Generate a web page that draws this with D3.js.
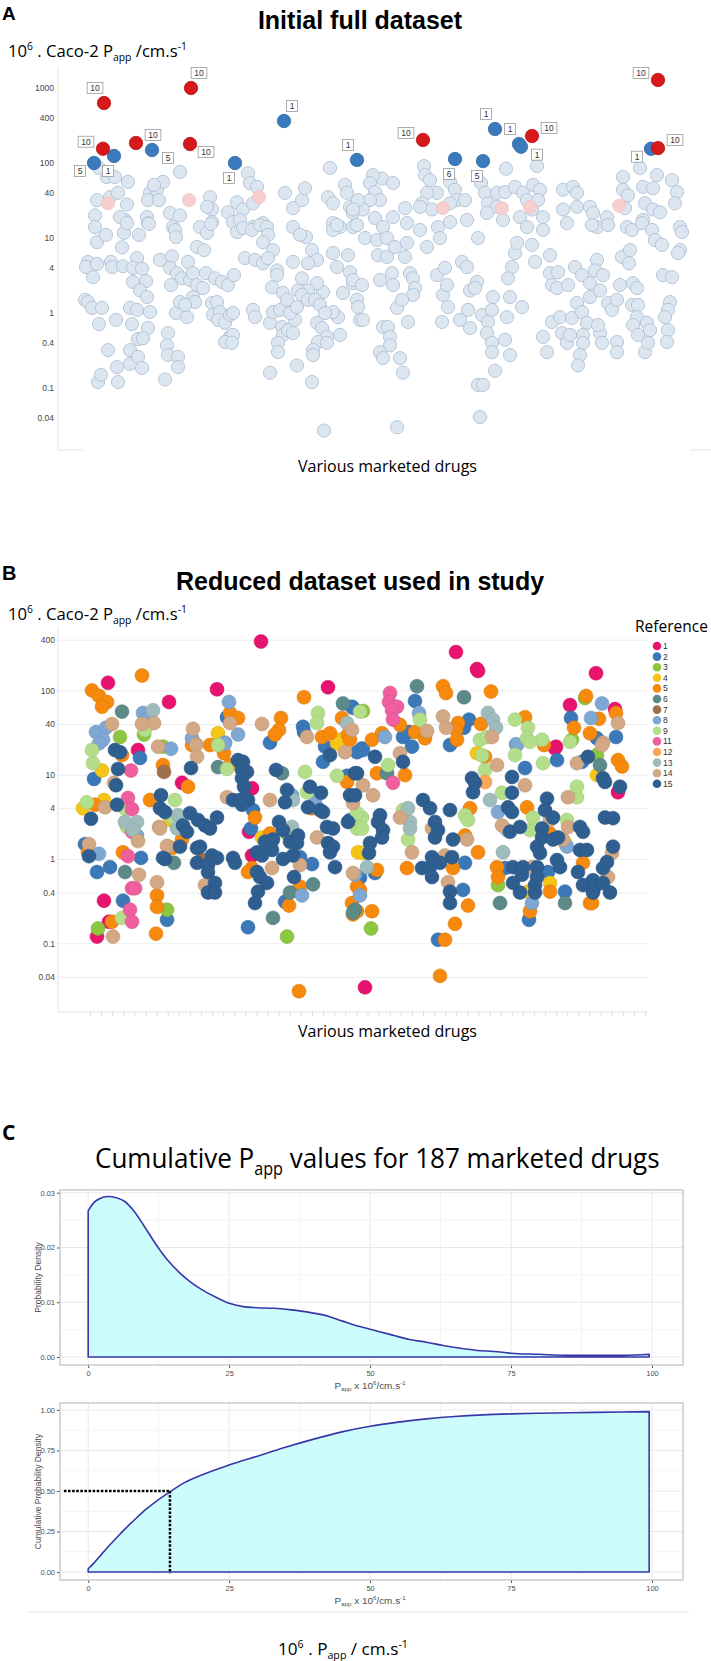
<!DOCTYPE html>
<html><head><meta charset="utf-8">
<script src="https://cdn.jsdelivr.net/npm/d3@7"></script>
<style>body{margin:0;background:#fff}svg{display:block}text{white-space:pre}</style>
</head><body>
<svg id="chart" width="711" height="1661"></svg>
<script>
// ================= DATA =================
// Panel A: drug position index, Caco-2 Papp (10^-6 cm/s)
const aTicks = [0.04, 0.1, 0.4, 1, 4, 10, 40, 100, 400, 1000];
const aOtherDrugs = [
[41,86],[49,65],[57,65],[70,56],[39,32],[52,35],[60,40],[37,20],[69,28],[67,17.4],[62,19],[37,14],[92,40],[99,44],[105,56],[96,51],[90,32],[101,32],[89,19],[90,15.8],[112,21.5],[122,20],[122,76],[115,14],[152,35],[154,24],[149,26],[154,16.3],[142,14],[170,22],[179,30],[185,24],[190,73],[192,54],[199,48],[195,29],[175,16.3],[182,17.4],[205,15.8],[195,14],[227,40],[235,25],[244,32],[247,46],[235,14],[272,86],[270,35],[275,29],[287,51],[289,40],[292,26],[295,21.5],[275,15.8],[282,14],[295,14],
[39,8.8],[48,11],[66,11.7],[69,15.8],[81,11],[91,15.4],[64,7.5],[117,12.8],[118,10.3],[149,11.7],[153,15.4],[139,7.6],[146,6.9],[179,12],[185,13.6],[194,12.8],[202,14.9],[209,14],[210,11],[205,8.8],[215,6.9],[187,5.4],[197,5.1],[205,4.6],[210,5.4],[219,3.7],[219,3.2],[214,2.2],[30,4.8],[28,4.1],[39,4.5],[35,3.0],[53,4.8],[54,4.1],[65,4.2],[79,5.4],[75,4.0],[84,3.9],[75,2.6],[88,2.67],[82,2.0],[89,1.63],[102,5.1],[114,5.7],[112,4.0],[113,2.36],[119,3.4],[130,4.8],[124,2.9],[132,2.75],[135,3.4],[139,2.36],[148,3.4],[145,2.15],[135,1.63],[137,1.4],[157,2.9],[164,2.6],[170,2.36],[176,3.2],[235,4.8],[244,2.9],[254,6.9],[248,10.3],[242,11],[259,5.1],[250,4.6],[265,1.9],[259,2.5],[250,2.0],[240,2.0],[275,12.8],[279,14.9],[275,6.3],[279,4.1],[290,5.9],[292,3.5],[285,1.85],[295,2.5],[27,1.5],[30,1.4],[34,1.17],[44,1.17],[41,0.71],[58,0.81],[50,0.32],[40,0.12],[43,0.15],[60,0.12],[59,0.19],[72,1.17],[79,1.1],[74,0.71],[92,1.03],[90,0.63],[80,0.45],[85,0.46],[72,0.32],[72,0.21],[80,0.26],[84,0.185],[110,0.54],[109,0.37],[110,0.275],[120,0.26],[120,0.19],[107,0.13],[118,1.0],[129,0.88],[122,1.4],[127,1.28],[154,1.36],[159,1.4],[155,0.94],[162,1.03],[160,0.81],[167,0.74],[172,0.94],[175,1.0],[172,0.48],[175,0.51],[167,0.41],[174,0.4],[195,1.1],[197,0.88],[212,0.74],[215,1.03],[222,1.1],[225,1.85],[229,1.5],[224,0.65],[225,0.51],[230,0.59],[220,0.4],[220,0.30],[237,0.81],[235,0.54],[239,0.2],[212,0.16],[232,1.0],[239,1.2],[244,1.74],[250,1.5],[257,1.5],[262,1.28],[259,0.74],[264,0.63],[269,0.48],[260,0.41],[255,0.32],[255,0.275],[269,0.4],[280,0.88],[282,0.51],[275,1.03],[267,1.0],[254,0.12],[266,0.027],[299,1.5],[300,1.2],[302,0.81],
[366,91],[367,69],[372,59],[379,40],[369,40],[364,29],[374,24],[392,56],[397,44],[399,32],[407,32],[392,29],[409,17.4],[392,16.3],[362,26],[347,25],[335,19],[324,62],[315,69],[335,54],[312,54],[317,41],[322,32],[312,32],[305,24],[317,18.5],[300,32],[295,24],[325,14],[423,54],[427,40],[430,29],[439,40],[447,41],[448,84],[439,26],[429,21.5],[445,17.4],[457,48],[465,40],[469,32],[475,51],[482,44],[480,32],[474,24],[479,91],[462,19],[485,19],[469,14],[505,44],[515,48],[519,40],[505,24],[519,26],[509,15.8],[532,26],[535,21.5],[549,19],[539,14],[565,65],[565,44],[570,37],[567,25],[582,86],[585,48],[595,46],[599,69],[587,29],[595,24],[602,22],[585,17.4],[614,59],[619,41],[617,29],[622,14],
[299,14.9],[307,10],[319,9.4],[329,10],[320,5.9],[329,5.6],[337,7.6],[347,5.6],[349,8.6],[349,15.8],[362,12.8],[369,7.6],[380,14],[382,10],[420,10],[295,2.75],[304,2.36],[322,2.75],[334,3.4],[335,2.36],[352,3.4],[355,2.9],[357,2.15],[355,1.74],[305,0.81],[325,0.65],[330,0.65],[332,0.48],[332,0.37],[322,0.30],[325,0.25],[342,0.25],[345,0.16],[339,1.17],[344,1.5],[350,0.76],[379,3.2],[387,4.0],[385,1.74],[389,2.36],[390,1.2],[384,0.76],[404,4.8],[409,4.1],[412,2.0],[419,2.6],[417,2.15],[410,1.1],[402,0.81],[412,0.63],[424,0.94],[430,0.76],[434,1.1],[435,1.63],[429,0.54],[434,0.4],[434,0.30],[437,0.17],[420,0.11],[425,0.11],[422,0.041],[339,0.03],[447,0.44],[449,0.88],[452,0.275],[452,1.63],[454,4.1],[450,2.9],[457,6.3],[459,8.6],[474,8.1],[477,4.8],[464,1.2],[485,12.8],[492,5.9],[492,3.4],[494,2.36],[499,2.15],[500,3.5],[489,0.30],[485,0.48],[494,0.76],[502,0.88],[504,0.54],[509,0.4],[512,0.51],[514,0.86],[519,1.36],[524,1.03],[529,0.74],[525,0.51],[525,0.4],[522,0.275],[520,0.2],[510,2.36],[517,4.1],[524,3.2],[532,1.63],[532,2.5],[539,5.1],[537,3.7],[542,2.0],[545,3.2],[550,1.36],[554,1.1],[559,1.5],[562,2.36],[564,5.6],[572,6.9],[571,4.6],[575,2.5],[579,2.15],[574,1.28],[580,1.28],[579,0.88],[575,0.69],[580,0.51],[589,0.74],[592,0.59],[587,0.30],[590,0.4],[559,0.41],[559,0.30],[542,0.54],[544,0.4],[540,0.69],[534,14.9],[550,14.9],[569,14],[574,12.8],[584,15.8],[594,12.8],[597,9.4],[604,8.1],[605,3.2],[614,3.0],[612,1.4],[610,1.1],[607,0.88],[610,0.59],[609,0.41],[624,12],[622,6.9],[620,6.3]
];
const aFaintRef10 = [[50,29],[131,32],[201,35],[385,25],[444,25],[472,26],[561,27]];
const aRef10Points = [[46,631,"10"],[133,1000,"10"],[45,155,"10"],[78,185,"10"],[132,179,"10"],[600,1280,"10"],[365,203,"10"],[474,229,"10"],[600,158,"10"]];
const aRef10Sides = ["ul","ur","l","r","dr","l","l","r","r"];
const aOtherRefPoints = [[36,100,"5"],[56,124,"1"],[94,149,"5"],[226,363,"1"],[177,100,"1"],[299,110,"1"],[437,284,"1"],[461,179,"1"],[463,165,"1"],[397,113,"6"],[425,106,"5"],[593,155,"1"]];
const aOtherRefSides = ["dl","d","dr","ur","d","ul","ul","ul","dr","d","d","dl"];

// Panel B: per reference, [drug position index, Papp]
const bTicks = [0.04, 0.1, 0.4, 1, 4, 10, 40, 100, 400];
const refNames = ["1","2","3","4","5","6","7","8","9","11","12","13","14","15"];
const bRef1 = [[50,123],[111,73],[159,103],[203,380],[270,109],[398,285],[419,179],[420,170],[538,160],[512,67],[557,60],[498,21.5],[80,19.6],[124,8],[194,6.9],[191,2.1],[194,1.1],[46,0.32],[51,0.18],[39,0.12],[307,0.03],[497,20.5],[560,6.2]];
const bRef2 = [[169,48],[212,24],[245,37],[246,32],[294,64],[357,75],[295,62],[406,36],[411,45],[513,47],[539,27],[558,28],[351,32],[345,28],[304,20.5],[392,22.5],[354,21.5],[82,15.8],[36,8.9],[195,3.8],[193,2.3],[242,1.05],[190,0.155],[227,0.31],[254,0.87],[267,21.5],[265,14.2],[289,9.7],[299,18.5],[305,19.6],[292,2.9],[317,0.68],[302,0.6],[407,0.9],[405,0.43],[380,0.11],[467,12],[447,0.78],[471,0.19],[507,0.41],[490,0.7],[499,14.9],[524,14.2],[27,1.5],[83,1.03],[39,0.7],[52,0.8],[65,0.32],[109,0.19]];
const bRef3 = [[62,28],[86,30],[105,21.5],[109,0.25],[40,0.15],[229,2.0],[229,0.12],[305,57],[514,26],[313,0.15],[440,0.49],[539,17.1],[527,81]];
const bRef4 = [[160,31],[282,26],[44,11.2],[25,4],[46,5.0],[112,2.9],[204,1.8],[300,1.2],[279,23.5],[305,1.18],[507,1.55],[470,0.41],[492,0.52],[539,9.9],[419,18]];
const bRef5 = [[34,100],[41,86],[49,73],[44,64],[84,150],[172,54],[180,47],[152,22.5],[223,47],[221,34],[217,30],[246,83],[284,47],[264,28],[272,31],[290,30],[385,112],[388,93],[433,97],[528,86],[342,39],[400,41],[398,34],[423,40],[467,48],[486,22.5],[516,36],[541,46],[532,31],[558,54],[357,32],[367,27],[324,31],[314,26],[399,26],[64,17.1],[105,13],[134,22.5],[166,18],[172,13],[130,7.2],[92,5.0],[114,1.35],[124,1.7],[197,3.1],[212,2.0],[194,0.78],[190,0.7],[231,0.28],[242,0.47],[254,4],[289,8.2],[292,26],[299,0.47],[294,0.3],[295,0.22],[37,4.4],[30,1.2],[65,1.2],[54,0.18],[99,0.37],[99,0.27],[98,0.13],[241,0.027],[319,10.4],[347,9.9],[319,0.74],[302,0.43],[299,0.24],[314,0.24],[349,0.78],[395,0.78],[410,0.28],[397,0.17],[387,0.11],[382,0.041],[407,1.9],[412,4],[420,1.2],[469,4.1],[492,2.0],[525,0.9],[532,0.3],[439,0.8],[440,0.61],[492,0.41],[472,0.24],[534,0.3],[560,14.9],[564,12.5],[427,16.3]];
const bRef6 = [[64,56],[285,70],[359,112],[406,83],[160,12.3],[224,10.4],[116,0.9],[67,0.7],[215,0.2],[232,0.4],[255,0.5],[297,0.25],[295,0.23],[442,0.3],[507,0.3],[542,13],[329,10.4]];
const bRef7 = [[106,10.8],[144,0.97]];
const bRef8 = [[38,32],[48,36],[45,26],[85,54],[89,45],[171,73],[180,30],[167,24],[134,27],[544,70],[361,54],[327,28],[458,23],[533,47],[41,23.5],[113,20.3],[167,23.5],[257,4.7],[234,5.7],[244,0.37],[297,0.65],[41,1.15],[79,1.9],[302,0.37],[440,3.6],[509,1.4],[474,0.3],[459,22.5]];
const bRef9 = [[87,34],[260,54],[259,41],[302,56],[362,45],[457,45],[470,36],[469,27],[484,26],[422,26],[429,28],[34,19.6],[35,13.7],[160,22.5],[169,11.7],[117,5.0],[115,3.1],[249,6.2],[247,10.8],[279,9.7],[299,2.3],[29,4.7],[67,4],[69,2.4],[64,0.2],[330,13],[304,3.1],[304,2.3],[345,3.8],[350,1.7],[407,3.3],[410,2.9],[427,11.4],[444,6.1],[472,2.2],[475,3.1],[509,2.9],[519,5.4],[519,7.2],[485,13.7],[512,24.5],[424,17],[457,17.1],[472,24.5],[299,3.5]];
const bRef11 = [[332,93],[331,73],[339,64],[334,58],[335,45],[73,11.2],[70,5.3],[74,3.9],[74,2.1],[70,1.08],[74,0.45],[77,0.45],[72,0.25],[74,0.18],[335,8]];
const bRef12 = [[427,8.2]];
const bRef13 = [[95,58],[289,41],[430,54],[435,45],[438,36],[120,3.3],[119,2.3],[234,2.4],[235,5.0],[67,2.75],[79,2.75],[75,2.2],[309,0.8],[350,4],[352,2.75],[352,2.3],[432,5],[449,2.2],[445,1.2]];
const bRef14 = [[54,40],[84,40],[96,41],[172,41],[135,35],[138,23],[204,40],[249,28],[294,34],[385,49],[388,36],[434,28],[545,24],[560,41],[369,33],[56,8],[100,21.5],[138,22.5],[139,16.3],[101,2.4],[110,1.4],[147,0.49],[169,5.4],[214,0.78],[242,0.85],[212,5.0],[259,1.8],[295,0.68],[295,4.6],[287,18.5],[47,4.1],[31,1.5],[80,1.63],[81,0.65],[99,0.53],[55,0.12],[102,2.3],[109,1.43],[315,5.7],[305,7.5],[342,18],[342,3.1],[354,1.2],[387,1.1],[390,0.53],[374,2.3],[409,1.7],[439,13],[467,7.5],[444,2.5],[492,2.9],[505,1.7],[510,2.4],[510,5.4],[474,0.8],[550,0.61],[554,1.18],[519,13.7],[544,22.5]];
const bRef15 = [[57,19.6],[62,18.5],[60,11.7],[58,7.5],[133,12],[180,14.9],[185,14.2],[184,11.4],[189,10.8],[184,9.1],[186,7.2],[190,5.0],[187,5.3],[184,4.4],[103,5.7],[102,4.0],[107,3.6],[125,2.5],[129,2.1],[132,3.5],[140,2.9],[147,2.5],[152,2.3],[159,3.1],[122,1.4],[107,1.0],[139,1.35],[142,1.4],[139,0.9],[154,1.1],[150,0.85],[159,1.03],[150,0.7],[157,0.52],[150,0.4],[157,0.4],[175,1.03],[177,0.9],[175,5.0],[182,5.0],[207,1.6],[199,1.2],[204,1.1],[214,1.28],[215,1.7],[221,2.75],[225,2.2],[232,1.6],[240,1.9],[239,1.55],[225,1.0],[235,1.1],[199,0.7],[202,0.61],[209,0.52],[200,0.41],[197,0.3],[236,0.61],[250,4.1],[262,3.8],[265,3.6],[263,6.1],[252,7.2],[227,4.7],[229,6.6],[218,11.4],[269,2.4],[275,2.3],[270,1.55],[275,1.4],[272,1.2],[277,0.8],[290,2.75],[272,17.1],[292,5.7],[297,10.4],[33,3.0],[59,4.4],[31,1.08],[105,1.03],[317,16.3],[299,10.4],[345,14.2],[297,5.7],[322,3.3],[320,2.75],[325,2.2],[324,1.8],[312,1.55],[311,1.18],[365,5.0],[372,4],[377,2.75],[380,2.2],[377,1.8],[392,3.8],[395,1.7],[364,0.78],[372,0.8],[374,0.61],[374,1.05],[382,0.9],[394,1.05],[392,0.41],[392,0.3],[414,9.1],[417,8],[415,6.2],[454,9.4],[454,6.1],[450,4.1],[454,3.6],[452,2.1],[462,2.4],[489,5.2],[487,3.8],[495,3.1],[484,2.3],[484,1.8],[479,1.4],[482,1.18],[495,1.7],[500,1.8],[522,2.4],[525,2.1],[522,1.28],[529,1.28],[520,0.7],[525,0.49],[535,0.56],[537,0.47],[535,0.4],[545,0.52],[552,0.4],[545,0.78],[549,0.92],[555,1.4],[547,3.1],[555,3.05],[455,0.8],[455,0.52],[464,0.65],[465,0.8],[479,0.8],[479,0.61],[477,0.49],[462,0.4],[477,0.4],[499,0.97],[502,0.8],[545,9.1],[547,8.2],[562,7.2],[530,16.3]];
const bSeries = [bRef1,bRef2,bRef3,bRef4,bRef5,bRef6,bRef7,bRef8,bRef9,bRef11,bRef12,bRef13,bRef14,bRef15];

// Panel C: kernel density and cumulative distribution of Papp
const densityPapp   = [0,1,2,3.5,5,6.5,8,10,12,14,16,18,20,22.5,25,27.5,30,33,36,39,42,45,48,51,54,57,60,63,66,69,72,75,80,85,90,95,99.5];
const densityValues = [0.0267,0.0282,0.0289,0.0293,0.0291,0.0284,0.0268,0.0238,0.0206,0.0178,0.0156,0.0138,0.0124,0.0110,0.0098,0.0092,0.0090,0.0089,0.0086,0.0082,0.0076,0.0066,0.0056,0.0048,0.0040,0.0032,0.0027,0.0021,0.0016,0.0012,0.0010,0.0007,0.0005,0.0003,0.0003,0.0003,0.0005];
const cumulativePapp   = [0,1,2,3.5,5,6.5,8,10,12,14.5,17,20,25,30,35,40,45,50,55,60,65,70,75,80,90,99.5];
const cumulativeValues = [0.02,0.055,0.095,0.155,0.21,0.265,0.315,0.38,0.435,0.495,0.55,0.597,0.66,0.715,0.77,0.82,0.865,0.90,0.925,0.945,0.96,0.97,0.976,0.98,0.985,0.99];
const medianPapp = 14.5;
const densityTicksX = [0,25,50,75,100];
const densityTicksY = [0,0.01,0.02,0.03];
const cumulativeTicksY = [0,0.25,0.5,0.75,1];

// ================= STYLE =================
const refColors = ["#e8136f","#3a78b8","#8dc63f","#f5c518","#f7890c","#5b8a89","#a0704a","#7fa7d3","#b4df8a","#ef5fa0","#f9a757","#9ebcbb","#d2a885","#2f5f91"];
const ARIAL = "Liberation Sans, Arial, sans-serif";
const CALIBRI = "Open Sans, Noto Sans, sans-serif";
const NARROW = "Liberation Sans Narrow, Liberation Sans, Arial, sans-serif";

const svg = d3.select("#chart");

function rich(parent, x, y, parts, o) {
  const t = parent.append("text").attr("x", x).attr("y", y)
    .attr("font-family", o.family).attr("font-size", o.size)
    .attr("font-weight", o.weight || "normal").attr("fill", o.fill || "#000")
    .attr("text-anchor", o.anchor || "start");
  let cur = 0;
  parts.forEach(p => {
    const [s, k] = Array.isArray(p) ? p : [p, "n"];
    const off = k === "sup" ? -0.42 * o.size : k === "sub" ? 0.26 * o.size : 0;
    t.append("tspan").attr("dy", off - cur).attr("font-size", k === "n" ? o.size : o.size * 0.62).text(s);
    cur = off;
  });
  if (o.width) {
    const w = t.node().getBBox().width;
    if (w > 0) t.attr("transform", `translate(${x},${y}) scale(${o.width / w},1) translate(${-x},${-y})`);
  }
  return t;
}

const xDrug = d3.scaleLinear().domain([0, 630]).range([58, 688]);

// ================= PANEL A =================
const yA = d3.scaleLog().domain([0.0149, 1848]).range([450, 68]);
const gA = svg.append("g");
gA.append("text").attr("x", 2).attr("y", 20).attr("font-family", ARIAL).attr("font-weight", "bold").attr("font-size", 19).text("A");
gA.append("text").attr("x", 360).attr("y", 29).attr("text-anchor", "middle").attr("font-family", ARIAL).attr("font-weight", "bold").attr("font-size", 25).text("Initial full dataset");
rich(gA, 8, 57, ["10", ["6","sup"], " . Caco-2 P", ["app","sub"], " /cm.s", ["-1","sup"]], {family: CALIBRI, size: 16, width: 179});
gA.append("line").attr("x1", 58).attr("x2", 58).attr("y1", 68).attr("y2", 450).attr("stroke", "#e2e2e2");
gA.append("line").attr("x1", 58).attr("x2", 83).attr("y1", 450).attr("y2", 450).attr("stroke", "#e2e2e2");
gA.append("line").attr("x1", 690).attr("x2", 711).attr("y1", 450).attr("y2", 450).attr("stroke", "#e2e2e2");
const axA = gA.append("g").attr("transform", "translate(56,0)")
  .call(d3.axisLeft(yA).tickValues(aTicks).tickSize(0).tickPadding(2).tickFormat(d => String(d)));
axA.select(".domain").remove();
axA.selectAll("text").attr("font-family", ARIAL).attr("font-size", 8.5).attr("fill", "#444");

gA.append("g").selectAll("circle").data(aOtherDrugs).join("circle")
  .attr("cx", d => xDrug(d[0])).attr("cy", d => yA(d[1])).attr("r", 6.6)
  .attr("fill", "#dce6f1").attr("stroke", "#a9bcd1").attr("stroke-width", 0.8);
gA.append("g").selectAll("circle").data(aFaintRef10).join("circle")
  .attr("cx", d => xDrug(d[0])).attr("cy", d => yA(d[1])).attr("r", 6.6)
  .attr("fill", "#f8cfcf").attr("stroke", "#ecbcbc").attr("stroke-width", 0.6);

const sideOffset = {ul:[-9,-15], ur:[8,-15], l:[-17,-7], r:[17,-8], dr:[16,8], dl:[-14,8], d:[-6,15]};
function drawHighlights(points, sides, fill, stroke) {
  const g = gA.append("g");
  g.selectAll("circle").data(points).join("circle")
    .attr("cx", d => xDrug(d[0])).attr("cy", d => yA(d[1])).attr("r", 6.7)
    .attr("fill", fill).attr("stroke", stroke).attr("stroke-width", 0.8);
  points.forEach((d, i) => {
    const [dx, dy] = sideOffset[sides[i]];
    const cx = xDrug(d[0]) + dx, cy = yA(d[1]) + dy;
    const lg = g.append("g");
    const t = lg.append("text").attr("x", cx).attr("y", cy + 3.2).attr("text-anchor", "middle")
      .attr("font-family", ARIAL).attr("font-size", 8.5).attr("fill", "#333").text(d[2]);
    const w = t.node().getBBox().width + 6;
    lg.insert("rect", "text").attr("x", cx - w / 2).attr("y", cy - 5.5).attr("width", w).attr("height", 11)
      .attr("fill", "#fff").attr("stroke", "#9a9a9a").attr("stroke-width", 0.8);
  });
}
drawHighlights(aOtherRefPoints, aOtherRefSides, "#3b7bbd", "#2e68a3");
drawHighlights(aRef10Points, aRef10Sides, "#d7191c", "#b51518");

rich(gA, 298, 472, ["Various marketed drugs"], {family: CALIBRI, size: 16, width: 179});

// ================= PANEL B =================
const yB = d3.scaleLog().domain([0.0153, 550]).range([1012, 628]);
const gB = svg.append("g");
gB.append("text").attr("x", 2).attr("y", 580).attr("font-family", ARIAL).attr("font-weight", "bold").attr("font-size", 20).text("B");
gB.append("text").attr("x", 360).attr("y", 590).attr("text-anchor", "middle").attr("font-family", ARIAL).attr("font-weight", "bold").attr("font-size", 25).text("Reduced dataset used in study");
rich(gB, 8, 620, ["10", ["6","sup"], " . Caco-2 P", ["app","sub"], " /cm.s", ["-1","sup"]], {family: CALIBRI, size: 16, width: 179});
const axB = gB.append("g").attr("transform", "translate(58,0)")
  .call(d3.axisLeft(yB).tickValues(bTicks).tickSize(-(648 - 58)).tickPadding(3).tickFormat(d => String(d)));
axB.select(".domain").remove();
axB.selectAll("line").attr("stroke", "#ececec");
axB.selectAll("text").attr("font-family", ARIAL).attr("font-size", 8.5).attr("fill", "#444");
gB.append("line").attr("x1", 58).attr("x2", 58).attr("y1", 628).attr("y2", 1012).attr("stroke", "#e2e2e2");
const axBx = gB.append("g").attr("transform", "translate(0,1012)")
  .call(d3.axisBottom(xDrug).tickValues(d3.range(32, 590, 11.1)).tickSize(4).tickFormat(""));
axBx.select(".domain").remove();
axBx.selectAll("line").attr("stroke", "#dcdcdc");
gB.append("line").attr("x1", 58).attr("x2", 648).attr("y1", 1012).attr("y2", 1012).attr("stroke", "#e2e2e2");

bSeries.forEach((pts, i) => {
  const c = refColors[i];
  gB.append("g").selectAll("circle").data(pts).join("circle")
    .attr("cx", d => xDrug(d[0])).attr("cy", d => yB(d[1])).attr("r", 7)
    .attr("fill", c).attr("stroke", d3.color(c).darker(0.4)).attr("stroke-width", 0.5);
});

rich(gB, 298, 1037, ["Various marketed drugs"], {family: CALIBRI, size: 16, width: 179});
rich(gB, 635, 632, ["Reference"], {family: CALIBRI, size: 16, width: 73});
const leg = gB.append("g");
refNames.forEach((r, i) => {
  const y = 646 + i * 10.6;
  leg.append("circle").attr("cx", 657).attr("cy", y).attr("r", 4.3).attr("fill", refColors[i]);
  leg.append("text").attr("x", 663).attr("y", y + 3).attr("font-family", ARIAL).attr("font-size", 8.5).attr("fill", "#333").text(r);
});

// ================= PANEL C =================
const gC = svg.append("g");
gC.append("text").attr("x", 2).attr("y", 1140).attr("font-family", CALIBRI).attr("font-weight", "bold").attr("font-size", 21).text("C");
rich(gC, 95, 1168, ["Cumulative P", ["app","sub"], " values for 187 marketed drugs"], {family: CALIBRI, size: 28, width: 565});

const xC = d3.scaleLinear().domain([-5, 105.5]).range([60, 683]);
const yDen = d3.scaleLinear().domain([-0.00146, 0.0305]).range([1365, 1190]);
const yCum = d3.scaleLinear().domain([-0.049, 1.043]).range([1580, 1403]);
const GREY = "#4d4d4d";

function panelFrame(yScale, yTicks, yMinor, yFmt, yTitle, top, bottom) {
  const g = gC.append("g");
  [12.5, 37.5, 62.5, 87.5].forEach(v => g.append("line").attr("x1", xC(v)).attr("x2", xC(v)).attr("y1", top).attr("y2", bottom).attr("stroke", "#f4f4f4"));
  yMinor.forEach(v => g.append("line").attr("x1", 60).attr("x2", 683).attr("y1", yScale(v)).attr("y2", yScale(v)).attr("stroke", "#f4f4f4"));
  densityTicksX.forEach(v => g.append("line").attr("x1", xC(v)).attr("x2", xC(v)).attr("y1", top).attr("y2", bottom).attr("stroke", "#e9e9e9"));
  yTicks.forEach(v => g.append("line").attr("x1", 60).attr("x2", 683).attr("y1", yScale(v)).attr("y2", yScale(v)).attr("stroke", "#e9e9e9"));
  const ay = g.append("g").attr("transform", "translate(60,0)")
    .call(d3.axisLeft(yScale).tickValues(yTicks).tickSize(3).tickPadding(2).tickFormat(yFmt));
  ay.select(".domain").remove();
  ay.selectAll("line").attr("stroke", "#555");
  ay.selectAll("text").attr("font-family", NARROW).attr("font-size", 7.5).attr("fill", GREY);
  const ax = g.append("g").attr("transform", `translate(0,${bottom})`)
    .call(d3.axisBottom(xC).tickValues(densityTicksX).tickSize(3).tickPadding(3).tickFormat(d3.format("d")));
  ax.select(".domain").remove();
  ax.selectAll("line").attr("stroke", "#555");
  ax.selectAll("text").attr("font-family", NARROW).attr("font-size", 7.5).attr("fill", GREY);
  const tg = g.append("g").attr("transform", `translate(41,${(top + bottom) / 2}) rotate(-90)`);
  tg.append("text").attr("text-anchor", "middle").attr("font-family", ARIAL).attr("font-size", 8.5).attr("fill", GREY).text(yTitle);
  rich(g, xC(50), bottom + 24, ["P", ["app","sub"], " x 10", ["6","sup"], "/cm.s", ["-1","sup"]], {family: NARROW, size: 9, fill: GREY, anchor: "middle", width: 71});
  return g;
}

const gDen = panelFrame(yDen, densityTicksY, [0.005, 0.015, 0.025], d3.format(".2f"), "Probability Density", 1190, 1365);
const denData = densityPapp.map((x, i) => [x, densityValues[i]]);
gDen.append("path").datum(denData)
  .attr("d", d3.area().x(d => xC(d[0])).y0(yDen(0)).y1(d => yDen(d[1])).curve(d3.curveMonotoneX))
  .attr("fill", "#ccfcfc").attr("stroke", "#3737a8").attr("stroke-width", 1.6).attr("stroke-linejoin", "round");
gDen.append("rect").attr("x", 60).attr("y", 1190).attr("width", 623).attr("height", 175).attr("fill", "none").attr("stroke", "#c4c4c4").attr("stroke-width", 1.3);

const gCum = panelFrame(yCum, cumulativeTicksY, [0.125, 0.375, 0.625, 0.875], d3.format(".2f"), "Cumulative Probability Density", 1403, 1580);
const cumData = cumulativePapp.map((x, i) => [x, cumulativeValues[i]]);
gCum.append("path").datum(cumData)
  .attr("d", d3.area().x(d => xC(d[0])).y0(yCum(0)).y1(d => yCum(d[1])).curve(d3.curveMonotoneX))
  .attr("fill", "#ccfcfc").attr("stroke", "#3737a8").attr("stroke-width", 1.6).attr("stroke-linejoin", "round");
gCum.append("rect").attr("x", 60).attr("y", 1403).attr("width", 623).attr("height", 177).attr("fill", "none").attr("stroke", "#c4c4c4").attr("stroke-width", 1.3);
gCum.append("line").attr("x1", xC(-4.3)).attr("x2", xC(medianPapp)).attr("y1", yCum(0.5)).attr("y2", yCum(0.5))
  .attr("stroke", "#000").attr("stroke-width", 2.5).attr("stroke-dasharray", "2.5,1.6");
gCum.append("line").attr("x1", xC(medianPapp)).attr("x2", xC(medianPapp)).attr("y1", yCum(0.5)).attr("y2", yCum(-0.007))
  .attr("stroke", "#000").attr("stroke-width", 2.5).attr("stroke-dasharray", "2.5,1.6");

gC.append("line").attr("x1", 28).attr("x2", 689).attr("y1", 1612).attr("y2", 1612).attr("stroke", "#e6e6e6");
rich(gC, 278, 1655, ["10", ["6","sup"], " . P", ["app","sub"], " / cm.s", ["-1","sup"]], {family: CALIBRI, size: 17, width: 130});
</script>
</body></html>
